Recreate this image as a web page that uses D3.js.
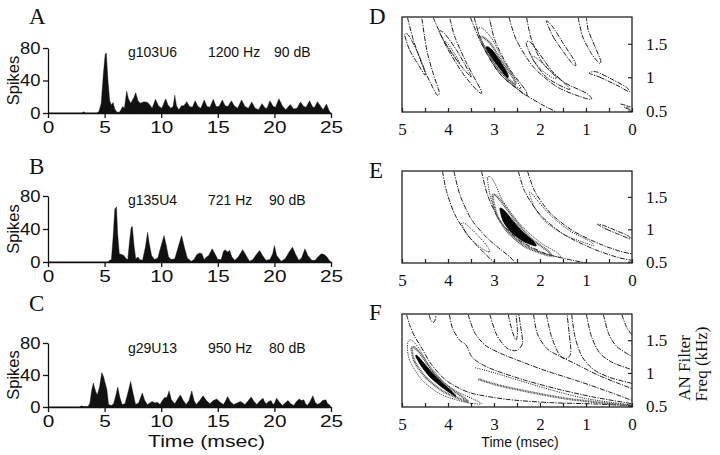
<!DOCTYPE html>
<html><head><meta charset="utf-8">
<script src="https://cdn.jsdelivr.net/npm/d3@7"></script>
<style>body{margin:0;background:#fff}svg{display:block}</style>
</head><body><svg id="c" width="720" height="455"></svg>
<script>
// ---------- PSTH data (time msec, spikes) ----------
const timesA  = [0,3.0,3.15,3.3,4.3,4.5,4.7,4.9,5.05,5.15,5.3,5.45,5.6,5.75,5.9,6.1,6.3,6.45,6.6,6.75,6.95,7.1,7.3,7.55,7.75,7.95,8.15,8.5,8.8,9.05,9.2,9.5,9.75,10.05,10.4,10.6,10.85,11.05,11.2,11.35,11.55,11.8,12.0,12.26,12.5,12.75,13.0,13.25,13.5,13.8,14.05,14.3,14.6,14.85,15.1,15.4,15.65,15.9,16.2,16.45,16.75,17.1,17.4,17.7,18.0,18.3,18.6,18.9,19.2,19.35,19.6,19.9,20.1,20.4,20.7,21.0,21.4,21.7,22.0,22.3,22.6,22.8,23.1,23.4,23.55,23.8,24.1,24.3,24.6,24.8,24.95,25];
const spikesA = [0,0,1.5,0,0,2,12,50,72,74,40,15,10,13,5,1,1,4,8,6,27,18,12,18,25,15,12,14,13,9,6,17,9,6,17.5,10,6,8,22,9,4,9,9,14,8,7,15,8,6,16,8,7,17,8,8,16,9,8,15,9,6,16,8,6,13.5,6,4,11.5,6,6,15,8,7,17.5,9,4,10.5,5,6,13.5,8,7,15,7,7,14,8,4,11,4,0,0];
const timesB  = [0,5.3,5.45,5.6,5.75,5.9,6.05,6.15,6.3,6.5,6.7,6.9,7.05,7.2,7.35,7.45,7.6,7.75,7.95,8.1,8.35,8.6,8.8,8.95,9.15,9.4,9.7,10.0,10.25,10.45,10.65,10.9,11.2,11.5,11.8,12.05,12.3,12.65,12.9,13.15,13.4,13.6,13.8,14.0,14.2,14.5,14.75,15.0,15.3,15.5,15.65,15.85,16.05,16.25,16.5,16.8,17.2,17.5,17.8,18.1,18.4,18.7,18.95,19.25,19.6,19.85,20.0,20.2,20.6,20.95,21.3,21.6,21.85,22.15,22.4,22.7,22.95,23.3,23.6,23.9,24.15,24.4,24.65,24.9,25];
const spikesB = [0,0,2,3,30,64,67,35,10,9,8,4,3,25,42,43,20,4,6,3,2,18,36,22,8,3,5,20,32,20,6,3,4,18,32,18,5,1,3,9,11,10,3,6,8,16,10,3,3,13,15,12,14,6,2,6,15,8,1,3,9,14,8,2,3,10,20,8,1,4,12,18,10,2,5,16,8,2,2,7,10,9,6,1,0];
const timesC  = [0,2.8,2.95,3.1,3.55,3.7,3.85,4.0,4.2,4.35,4.55,4.75,4.9,5.05,5.2,5.35,5.6,5.8,6.0,6.16,6.35,6.55,6.8,7.1,7.3,7.5,7.74,8.0,8.33,8.55,8.78,9.0,9.2,9.45,9.67,9.9,10.1,10.3,10.5,10.7,10.9,11.2,11.45,11.7,11.95,12.2,12.45,12.7,12.9,13.1,13.4,13.7,14.0,14.3,14.6,14.9,15.2,15.5,15.7,15.86,16.1,16.4,16.7,17.0,17.2,17.4,17.7,17.95,18.2,18.45,18.75,19.0,19.15,19.3,19.5,19.7,19.85,19.95,20.1,20.2,20.45,20.7,20.95,21.2,21.45,21.7,21.95,22.2,22.4,22.6,22.75,22.9,23.15,23.4,23.6,23.8,24.05,24.25,24.55,24.7,24.85,25.0];
const spikesC = [0,0,1.5,0.5,0.5,5,20,30,20,15,25,43,38,30,22,3,2,4,15,25,12,3,4,20,32,18,3,5,17.5,8,3,5,7,5,6,3,8,12,12,20,9,4,10,15,8,3,8,20,8,3,8,14,8,4,8,10,6,3,8,13,7,3,5,7,5,3,8,12.5,7,3,8,11,6,4,7,8,4,3,8,11,6,2,5,8,4,2,7,10,8,9,4,2,7,14,6,3,5,8,9,4,3,0];

const unitLabels  = ["g103U6","g135U4","g29U13"];
const freqLabels  = ["1200 Hz","721 Hz","950 Hz"];
const levelLabels = ["90 dB","90 dB","80 dB"];
const psthLetters = ["A","B","C"];
const psthXTicks  = [0,5,10,15,20,25];
const psthYTicks  = [0,40,80];

// ---------- contour data: [style, closed, [[time msec, freq kHz],...]] ----------
const contoursD = [
 ["dd",0,[[4.88,1.89],[4.75,1.55],[4.54,1.15],[4.32,0.83],[4.23,0.73],[4.19,0.78],[4.32,1.05],[4.46,1.40],[4.57,1.89]]],
 ["dd",1,[[4.94,1.63],[4.83,1.40],[4.64,1.18],[4.50,1.03],[4.52,1.13],[4.68,1.40],[4.86,1.63]]],
 ["dd",0,[[4.32,1.89],[4.03,1.45],[3.67,1.05],[3.38,0.81],[3.27,0.76],[3.30,0.83],[3.59,1.20],[3.85,1.60],[3.96,1.89]]],
 ["dd",1,[[4.19,1.68],[3.96,1.40],[3.67,1.13],[3.49,1.0],[3.56,1.10],[3.81,1.40],[4.07,1.65]]],
 ["dt",1,[[4.07,1.53],[3.88,1.33],[3.75,1.20],[3.81,1.30],[4.0,1.50]]],
 ["dd",0,[[3.51,1.89],[3.27,1.50],[2.87,1.05],[2.36,0.76],[1.93,0.58],[1.64,0.48]]],
 ["dd",0,[[3.43,1.89],[3.23,1.45],[2.87,1.05],[2.47,0.81],[2.29,0.72],[2.33,0.82],[2.69,1.15],[2.98,1.55],[3.10,1.89]]],
 ["dt",1,[[3.36,1.70],[3.16,1.40],[2.87,1.08],[2.54,0.87],[2.42,0.83],[2.49,0.93],[2.80,1.25],[3.05,1.58],[3.25,1.73]]],
 ["dn",1,[[3.30,1.58],[3.12,1.35],[2.87,1.10],[2.62,0.93],[2.53,0.90],[2.59,1.0],[2.83,1.23],[3.05,1.48],[3.22,1.59]]],
 ["fl",1,[[3.17,1.44],[3.05,1.30],[2.87,1.13],[2.74,1.01],[2.69,1.0],[2.71,1.06],[2.83,1.20],[3.01,1.38],[3.12,1.45]]],
 ["dd",0,[[2.67,1.89],[2.51,1.55],[2.14,1.15],[1.64,0.86],[1.13,0.71],[0.88,0.67],[0.99,0.76],[1.49,0.93],[1.93,1.20],[2.18,1.55],[2.29,1.89]]],
 ["dd",1,[[2.30,1.50],[2.14,1.25],[1.86,1.0],[1.49,0.85],[1.35,0.82],[1.46,0.91],[1.75,1.10],[2.04,1.38],[2.22,1.53]]],
 ["dt",1,[[2.18,1.30],[2.0,1.13],[1.75,1.0],[1.64,0.98],[1.71,1.05],[1.93,1.20],[2.11,1.30]]],
 ["dd",1,[[1.86,1.84],[1.71,1.60],[1.46,1.35],[1.28,1.19],[1.22,1.18],[1.28,1.28],[1.49,1.50],[1.72,1.75]]],
 ["dd",0,[[1.17,1.89],[1.07,1.60],[0.88,1.35],[0.71,1.21],[0.68,1.25],[0.80,1.45],[0.95,1.70],[0.99,1.89]]],
 ["dd",1,[[0.93,1.06],[0.70,1.0],[0.33,0.88],[0.06,0.78],[0.12,0.85],[0.41,0.96],[0.77,1.08]]],
 ["dd",0,[[0.25,0.60],[0.04,0.56],[0.17,0.55],[0.01,0.51]]]
];
const contoursE = [
 ["dd",0,[[4.12,1.894],[4.03,1.581],[3.85,1.227],[3.56,0.899],[3.23,0.647],[2.98,0.48]]],
 ["dd",0,[[3.87,1.894],[3.74,1.530],[3.49,1.152],[3.16,0.874],[2.87,0.697],[2.65,0.571],[2.54,0.48]]],
 ["dt",1,[[3.70,1.076],[3.56,0.899],[3.30,0.722],[3.10,0.647],[3.14,0.732],[3.34,0.899],[3.56,1.051],[3.67,1.101]]],
 ["dd",0,[[3.27,1.894],[3.14,1.530],[2.87,1.126],[2.43,0.823],[1.86,0.621],[1.28,0.520],[0.99,0.48]]],
 ["dt",1,[[3.14,1.783],[3.07,1.480],[2.87,1.126],[2.51,0.849],[2.0,0.647],[1.57,0.571],[1.64,0.647],[2.0,0.798],[2.43,1.076],[2.80,1.429],[2.98,1.707],[3.07,1.808]]],
 ["dn",1,[[3.03,1.505],[2.94,1.227],[2.72,0.975],[2.36,0.748],[1.93,0.621],[1.75,0.596],[1.86,0.682],[2.22,0.874],[2.58,1.177],[2.87,1.455],[2.98,1.530]]],
 ["fl",1,[[2.87,1.303],[2.80,1.126],[2.62,0.950],[2.36,0.813],[2.09,0.743],[2.14,0.813],[2.36,0.950],[2.58,1.126],[2.76,1.278],[2.85,1.328]]],
 ["dd",0,[[2.47,1.894],[2.33,1.581],[2.0,1.227],[1.49,0.924],[0.84,0.697],[0.33,0.571],[0.0,0.52]]],
 ["dd",0,[[2.27,1.894],[2.11,1.581],[1.78,1.253],[1.28,0.975],[0.70,0.773],[0.26,0.662],[0.0,0.621]]],
 ["dt",1,[[2.23,1.556],[2.11,1.328],[1.86,1.101],[1.42,0.899],[0.91,0.763],[0.83,0.748],[0.91,0.813],[1.35,0.975],[1.75,1.202],[2.04,1.429],[2.18,1.556]]],
 ["dd",1,[[0.75,1.076],[0.55,1.0],[0.26,0.914],[0.04,0.849],[0.08,0.899],[0.33,0.975],[0.62,1.061]]]
];
const contoursF = [
 ["dd",0,[[4.90,1.89],[4.83,1.726],[4.72,1.552],[4.59,1.403],[4.36,1.129],[4.03,0.881],[3.52,0.697],[2.72,0.597],[1.78,0.547],[0.84,0.527],[0.0,0.50]]],
 ["dt",1,[[4.88,1.453],[4.84,1.204],[4.57,0.896],[4.14,0.667],[3.59,0.547],[3.27,0.527],[3.41,0.587],[3.88,0.746],[4.32,1.005],[4.61,1.353],[4.79,1.502]]],
 ["dn",1,[[4.79,1.363],[4.72,1.164],[4.46,0.915],[4.10,0.716],[3.70,0.592],[3.56,0.562],[3.68,0.632],[4.03,0.806],[4.36,1.055],[4.61,1.303],[4.74,1.393]]],
 ["fl",1,[[4.70,1.254],[4.59,1.114],[4.38,0.930],[4.10,0.766],[3.83,0.642],[3.90,0.706],[4.12,0.846],[4.36,1.015],[4.57,1.189],[4.67,1.264]]],
 ["dt",0,[[3.41,1.080],[3.01,1.005],[2.43,0.881],[1.71,0.731],[0.99,0.607],[0.0,0.51]]],
 ["dn",0,[[3.34,0.905],[2.87,0.806],[2.14,0.697],[1.42,0.607],[0.70,0.547],[0.0,0.50]]],
 ["dd",0,[[4.41,1.89],[4.37,1.80],[4.32,1.77],[4.28,1.81],[4.26,1.89]]],
 ["dd",0,[[3.97,1.89],[3.90,1.677],[3.75,1.502],[3.63,1.443],[3.57,1.378],[3.49,1.254],[3.30,1.144],[2.94,1.030],[2.29,0.881],[1.57,0.746],[0.84,0.632],[0.0,0.53]]],
 ["dd",0,[[3.56,1.89],[3.43,1.627],[3.20,1.428],[2.87,1.303],[2.43,1.179],[1.86,1.030],[1.13,0.866],[0.48,0.706],[0.0,0.58]]],
 ["dd",0,[[3.09,1.89],[2.94,1.577],[2.72,1.378],[2.51,1.343],[2.38,1.453],[2.42,1.701],[2.46,1.89]]],
 ["dd",0,[[2.69,1.89],[2.60,1.627],[2.52,1.502],[2.49,1.627],[2.52,1.89]]],
 ["dd",0,[[2.14,1.89],[2.06,1.602],[1.86,1.378],[1.57,1.254],[1.20,1.129],[0.70,0.955],[0.0,0.76]]],
 ["dd",0,[[1.86,1.89],[1.75,1.552],[1.58,1.279],[1.43,1.219],[1.33,1.313],[1.37,1.627],[1.41,1.89]]],
 ["dd",0,[[1.31,1.89],[1.24,1.552],[1.09,1.254],[0.84,1.055],[0.48,0.930],[0.0,0.84]]],
 ["dd",0,[[0.99,1.89],[0.88,1.552],[0.70,1.303],[0.41,1.154],[0.0,1.05]]],
 ["dd",0,[[0.62,1.89],[0.51,1.602],[0.33,1.403],[0.0,1.25]]],
 ["dd",0,[[0.22,1.89],[0.12,1.701],[0.0,1.58]]]
];
const contourLetters = ["D","E","F"];
const delayTicks = [5,4,3,2,1,0];
const delayMinor = [5,4.5,4,3.5,3,2.5,2,1.5,1,0.5,0];
const freqTicks  = [0.5,1,1.5];

// ---------- drawing ----------
const svg = d3.select("#c");
const SANS = "'Liberation Sans', Arial, Helvetica, sans-serif";
const SERIF = "'Liberation Serif', 'Times New Roman', serif";
const INK = "#111";

const psthData = [[timesA,spikesA],[timesB,spikesB],[timesC,spikesC]];
const psthLayout = [
  {top:48, bottom:113, letterY:24, textY:57},
  {top:196, bottom:262, letterY:174, textY:205},
  {top:343, bottom:407, letterY:311, textY:353}
];
const px0 = 48, px1 = 331;

psthData.forEach(([ts, vs], i) => {
  const L = psthLayout[i];
  const x = d3.scaleLinear().domain([0,25]).range([px0,px1]);
  const y = d3.scaleLinear().domain([0,80]).range([L.bottom,L.top]);
  const g = svg.append("g");
  const pts = ts.map((t,k)=>[t,vs[k]]);
  g.append("path").datum(pts)
    .attr("d", d3.area().x(d=>x(d[0])).y0(y(0)).y1(d=>y(d[1])))
    .attr("fill", INK).attr("stroke", INK).attr("stroke-width",0.4);
  const ax = g.append("g").attr("transform",`translate(0,${L.bottom})`)
    .call(d3.axisBottom(x).tickValues(psthXTicks).tickSize(5).tickSizeOuter(0).tickPadding(4));
  const ay = g.append("g").attr("transform",`translate(${px0},0)`)
    .call(d3.axisLeft(y).tickValues(psthYTicks).tickSize(5).tickSizeOuter(0).tickPadding(3));
  [ax,ay].forEach(a=>{
    a.selectAll("path,line").attr("stroke",INK).attr("stroke-width",1.3);
    a.selectAll("text").attr("font-family",SANS).attr("font-size",16).attr("fill",INK);
  });
  ax.selectAll("text").attr("transform","scale(1.3,1)");
  ay.selectAll("text").attr("x",-6.5).attr("transform","scale(1.15,1)");
  g.append("text").attr("transform",`translate(19,${(L.top+L.bottom)/2}) rotate(-90)`)
    .attr("text-anchor","middle").attr("font-family",SANS).attr("font-size",16.5).attr("fill",INK).text("Spikes");
  g.append("text").attr("x",29).attr("y",L.letterY).attr("font-family",SERIF).attr("font-size",23).attr("fill",INK).text(psthLetters[i]);
  [unitLabels[i],freqLabels[i],levelLabels[i]].forEach((s,k)=>{
    g.append("text").attr("x",k===0?128:(k===1?208:(i===0?274:269))).attr("y",L.textY)
      .attr("font-family",SANS).attr("font-size",14).attr("fill",INK).text(s);
  });
  if (i===2) {
    g.append("text").attr("x",148).attr("y",447)
      .attr("textLength",117).attr("lengthAdjust","spacingAndGlyphs")
      .attr("font-family",SANS).attr("font-size",17).attr("fill",INK).text("Time (msec)");
  }
});

const cLayout = [
  {top:17, bottom:112, letterY:24},
  {top:171, bottom:263, letterY:178},
  {top:314, bottom:407, letterY:320}
];
const cx0 = 402, cx1 = 632;
const styles = {
  dd: {dash:"5,1.3,1.2,1.3", w:0.95, c:"#111"},
  dt: {dash:"1.1,1.2", w:1.0, c:"#222"},
  dn: {dash:"1,0.6", w:2.2, c:"#555"}
};
[contoursD, contoursE, contoursF].forEach((cs, i) => {
  const L = cLayout[i];
  const x = d3.scaleLinear().domain([5,0]).range([cx0,cx1]);
  const y = d3.scaleLinear().domain([0.48,1.9]).range([L.bottom,L.top]);
  const g = svg.append("g");
  const cid = "clip"+i;
  svg.append("clipPath").attr("id",cid).append("rect")
    .attr("x",cx0).attr("y",L.top).attr("width",cx1-cx0).attr("height",L.bottom-L.top);
  const cg = g.append("g").attr("clip-path",`url(#${cid})`);
  cs.forEach(([st, closed, pts]) => {
    const line = d3.line().x(d=>x(d[0])).y(d=>y(d[1]))
      .curve(closed ? d3.curveCardinalClosed.tension(0.2) : d3.curveCardinal.tension(0.2));
    const p = cg.append("path").attr("d", line(pts));
    if (st === "fl") {
      p.attr("fill","#000").attr("stroke","#000").attr("stroke-width",0.8);
    } else {
      const s = styles[st];
      p.attr("fill","none").attr("stroke",s.c).attr("stroke-width",s.w).attr("stroke-dasharray",s.dash);
    }
  });
  g.append("rect").attr("x",cx0).attr("y",L.top).attr("width",cx1-cx0).attr("height",L.bottom-L.top)
    .attr("fill","none").attr("stroke","#222").attr("stroke-width",1.3);
  const minor = g.append("g").attr("transform",`translate(0,${L.bottom})`)
    .call(d3.axisBottom(x).tickValues(delayMinor).tickSize(-4).tickFormat(""));
  minor.select(".domain").remove();
  minor.selectAll("line").attr("stroke","#222").attr("stroke-width",1.2);
  const lab = g.append("g").attr("transform",`translate(0,${L.bottom})`)
    .call(d3.axisBottom(x).tickValues(delayTicks).tickSize(0).tickPadding(11).tickFormat(d=>String(d)));
  lab.select(".domain").remove();
  lab.selectAll("text").attr("font-family",SERIF).attr("font-size",17).attr("fill",INK);
  const ry = g.append("g").attr("transform",`translate(${cx1},0)`)
    .call(d3.axisRight(y).tickValues(freqTicks).tickSize(-4).tickPadding(14).tickFormat(d=>String(d)));
  ry.select(".domain").remove();
  ry.selectAll("line").attr("stroke","#222").attr("stroke-width",1.2);
  ry.selectAll("text").attr("font-family",SERIF).attr("font-size",17).attr("fill",INK);
  g.append("text").attr("x",369).attr("y",L.letterY).attr("font-family",SERIF).attr("font-size",23).attr("fill",INK).text(contourLetters[i]);
  if (i===2) {
    g.append("text").attr("x",(cx0+cx1)/2+3).attr("y",447).attr("text-anchor","middle")
      .attr("font-family",SANS).attr("font-size",14).attr("fill",INK).text("Time (msec)");
    g.append("text").attr("transform",`translate(690,368) rotate(-90)`).attr("text-anchor","middle")
      .attr("font-family",SERIF).attr("font-size",17).attr("fill",INK).text("AN Filter");
    g.append("text").attr("transform",`translate(707,364) rotate(-90)`).attr("text-anchor","middle")
      .attr("font-family",SERIF).attr("font-size",17).attr("fill",INK).text("Freq (kHz)");
  }
});
</script></body></html>
